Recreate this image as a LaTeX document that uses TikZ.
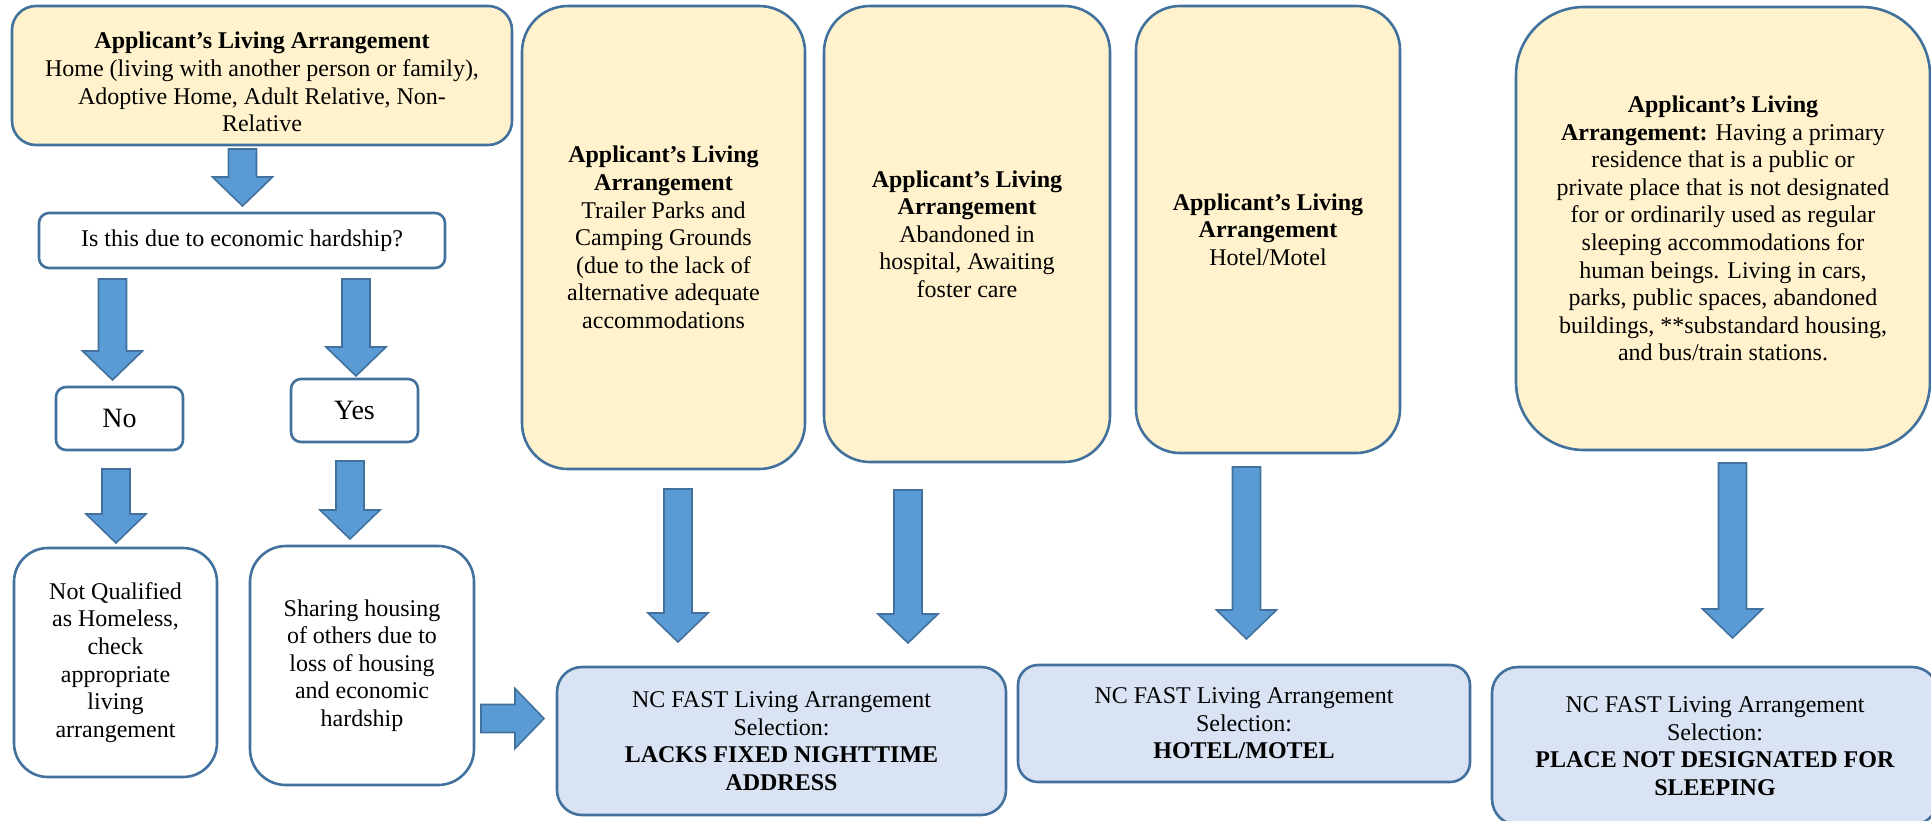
\documentclass[tikz,border=0pt]{standalone}
\usepackage{fontspec}
\setmainfont{Liberation Serif}
\usetikzlibrary{calc}
\definecolor{boxYellow}{HTML}{FFF2CC}
\definecolor{boxBlue}{HTML}{DAE3F3}
\definecolor{lineBlue}{HTML}{41719C}
\definecolor{arrowBlue}{HTML}{5B9BD5}
% A block arrow from a tail point to a tip point.
\newcommand{\blockArrow}[2]{%
  \coordinate (neck) at ($(#2)!14.5pt!(#1)$);
  \draw[arrowStyle] ($(#1)!7pt!90:(#2)$) -- ($(neck)!7pt!90:(#2)$)
    -- ($(neck)!15pt!90:(#2)$) -- (#2) -- ($(neck)!15pt!-90:(#2)$)
    -- ($(neck)!7pt!-90:(#2)$) -- ($(#1)!7pt!-90:(#2)$) -- cycle;
}

\begin{document}
\begin{tikzpicture}[x=0.5pt,y=-0.5pt,
  boxStyle/.style={draw=lineBlue,line width=1.3pt,align=center,inner sep=0pt,
    font=\fontsize{12}{13.8}\selectfont},
  yellowBox/.style={boxStyle,fill=boxYellow},
  blueBox/.style={boxStyle,fill=boxBlue},
  whiteBox/.style={boxStyle,fill=white},
  arrowStyle/.style={draw=lineBlue,fill=arrowBlue,line width=0.8pt}
]
\useasboundingbox (0,0) rectangle (1931,820);
\clip (0,0) rectangle (1931,820);
%
% The left branch.
\node[yellowBox,rounded corners=12pt,minimum width=250pt,minimum height=69.5pt] (home) at (262,75.5)
  {\rule{0pt}{15pt}\textbf{Applicant’s Living Arrangement}\\Home (living with another person or family),\\
   Adoptive Home, Adult Relative, Non-\\Relative};
\node[whiteBox,rounded corners=5pt,minimum width=203pt,minimum height=27.5pt] (question) at (242,240.5)
  {Is this due to economic hardship?};
\node[whiteBox,rounded corners=5pt,minimum width=63.5pt,minimum height=31.5pt,
  font=\fontsize{14}{16}\selectfont] (no) at (119.5,418.5) {No};
\node[whiteBox,rounded corners=5pt,minimum width=63.5pt,minimum height=31.5pt,
  font=\fontsize{14}{16}\selectfont] (yes) at (354.5,410.5) {Yes};
\node[whiteBox,rounded corners=17pt,minimum width=101.5pt,minimum height=114.5pt] (notQualified) at (115.5,662.5)
  {Not Qualified\\as Homeless,\\check\\appropriate\\living\\arrangement};
\node[whiteBox,rounded corners=18pt,minimum width=112pt,minimum height=119.5pt] (sharing) at (362,665.5)
  {Sharing housing\\of others due to\\loss of housing\\and economic\\hardship};
%
% The tall living arrangement boxes.
\node[yellowBox,rounded corners=23pt,minimum width=141.5pt,minimum height=231.5pt] (trailer) at (663.5,237.5)
  {\textbf{Applicant’s Living}\\\textbf{Arrangement}\\Trailer Parks and\\Camping Grounds\\
   (due to the lack of\\alternative adequate\\accommodations};
\node[yellowBox,rounded corners=23pt,minimum width=143pt,minimum height=228pt] (abandoned) at (967,234)
  {\textbf{Applicant’s Living}\\\textbf{Arrangement}\\Abandoned in\\hospital, Awaiting\\foster care};
\node[yellowBox,rounded corners=22pt,minimum width=132pt,minimum height=223.5pt] (hotel) at (1268,229.5)
  {\textbf{Applicant’s Living}\\\textbf{Arrangement}\\Hotel/Motel};
\node[yellowBox,rounded corners=34pt,minimum width=207pt,minimum height=221.5pt] (place) at (1723,228.5)
  {\textbf{Applicant’s Living}\\\textbf{Arrangement:} Having a primary\\residence that is a public or\\
   private place that is not designated\\for or ordinarily used as regular\\
   sleeping accommodations for\\human beings. Living in cars,\\
   parks, public spaces, abandoned\\buildings, **substandard housing,\\and bus/train stations.};
%
% The NC FAST selections.
\node[blueBox,rounded corners=12.5pt,minimum width=224.5pt,minimum height=74pt] (lacksSel) at (781.5,741)
  {NC FAST Living Arrangement\\Selection:\\\textbf{LACKS FIXED NIGHTTIME}\\\textbf{ADDRESS}};
\node[blueBox,rounded corners=10pt,minimum width=226pt,minimum height=58.5pt] (hotelSel) at (1244,723.5)
  {NC FAST Living Arrangement\\Selection:\\\textbf{HOTEL/MOTEL}};
\node[blueBox,rounded corners=13pt,minimum width=223pt,minimum height=79pt] (placeSel) at (1715,746)
  {NC FAST Living Arrangement\\Selection:\\\textbf{PLACE NOT DESIGNATED FOR}\\\textbf{SLEEPING}};
%
% Ends of the block arrows.
\coordinate (homeTail) at (242.5,149);      \coordinate (homeTip) at (242.5,206);
\coordinate (noTail) at (112.5,279);        \coordinate (noTip) at (112.5,380);
\coordinate (yesTail) at (356,279);         \coordinate (yesTip) at (356,376);
\coordinate (notTail) at (116,469);         \coordinate (notTip) at (116,543);
\coordinate (shareTail) at (350,461);       \coordinate (shareTip) at (350,539);
\coordinate (rightTail) at (481,718.5);     \coordinate (rightTip) at (544,718.5);
\coordinate (trailerTail) at (678,489);     \coordinate (trailerTip) at (678,642);
\coordinate (abandonedTail) at (908,490);   \coordinate (abandonedTip) at (908,643);
\coordinate (hotelTail) at (1246.5,467);    \coordinate (hotelTip) at (1246.5,639);
\coordinate (placeTail) at (1732.5,463);    \coordinate (placeTip) at (1732.5,638);
%
% The block arrows.
\blockArrow{homeTail}{homeTip}
\blockArrow{noTail}{noTip}
\blockArrow{yesTail}{yesTip}
\blockArrow{notTail}{notTip}
\blockArrow{shareTail}{shareTip}
\blockArrow{rightTail}{rightTip}
\blockArrow{trailerTail}{trailerTip}
\blockArrow{abandonedTail}{abandonedTip}
\blockArrow{hotelTail}{hotelTip}
\blockArrow{placeTail}{placeTip}
\end{tikzpicture}
\end{document}
